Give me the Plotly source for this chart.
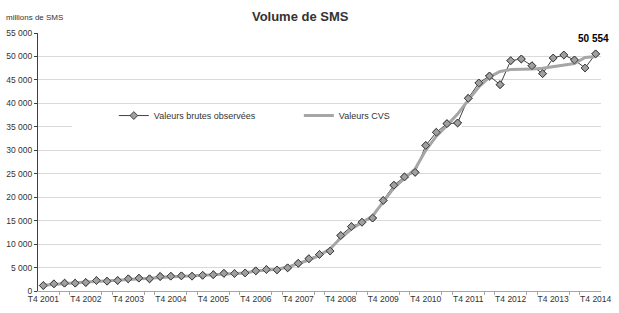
import plotly.graph_objects as go

# Quarters T4 2001 .. T4 2014
quarters = ["T4 2001"] + [f"T{q} {y}" for y in range(2002, 2015) for q in (1, 2, 3, 4)]

brutes = [1170, 1530, 1670, 1670, 1810, 2240, 2090, 2240, 2600, 2740,
          2600, 3090, 3160, 3230, 3160, 3350, 3480, 3760, 3730, 3850,
          4300, 4580, 4500, 4940, 5900, 6880, 7800, 8520, 11820, 13740,
          14660, 15550, 19300, 22550, 24320, 25300, 31030, 33830, 35680, 35820,
          41070, 44350, 45830, 43990, 49100, 49460, 48030, 46330, 49670, 50310,
          49250, 47540, 50554]

cvs = [1250, 1450, 1600, 1750, 1900, 2050, 2150, 2300, 2450, 2600,
       2700, 2900, 3050, 3150, 3250, 3350, 3450, 3600, 3700, 3850,
       4250, 4450, 4650, 5100, 5800, 6600, 7600, 9000, 11300, 13200,
       14600, 16000, 19000, 22000, 24000, 26000, 30000, 33000, 35300, 37700,
       40700, 43500, 45600, 46800, 47200, 47200, 47300, 47500, 47800, 48100,
       48500, 49800, 50000]

y_ticks = list(range(0, 55001, 5000))
y_tick_text = [f"{v:,}".replace(",", " ") for v in y_ticks]

x_idx = list(range(len(quarters)))
label_idx = [i for i, q in enumerate(quarters) if q.startswith("T4")]
label_text = [quarters[i] for i in label_idx]
tick_marks = [i + d for i in label_idx[:-1] for d in (1.5, 2.5)]

FONT = "Liberation Sans, Arial, sans-serif"

fig = go.Figure()
fig.add_trace(go.Scatter(x=x_idx, y=brutes, mode="lines+markers",
                         name="Valeurs brutes observées",
                         line=dict(color="#404040", width=1),
                         marker=dict(symbol="diamond", size=6, color="#a0a0a0",
                                     line=dict(color="#404040", width=1))))
fig.add_trace(go.Scatter(x=x_idx, y=cvs, mode="lines", name="Valeurs CVS",
                         line=dict(color="#a6a6a6", width=3)))
fig.add_trace(go.Scatter(x=x_idx, y=brutes, mode="markers", showlegend=False,
                         hoverinfo="skip",
                         marker=dict(symbol="diamond", size=6, color="#a0a0a0",
                                     line=dict(color="#404040", width=1))))

fig.add_annotation(x=x_idx[-1], y=brutes[-1], text="<b>" + f"{brutes[-1]:,}".replace(",", " ") + "</b>",
                   showarrow=False, yshift=15, xshift=-2,
                   font=dict(family=FONT, size=10, color="#000000"))
fig.add_annotation(xref="paper", yref="paper", x=-0.06, y=1.059, xanchor="left", yanchor="middle",
                   text="millions de SMS", showarrow=False,
                   font=dict(family=FONT, size=8, color="#333333"))

# white area behind legend hiding part of a gridline
fig.add_shape(type="rect", xref="x", yref="y", layer="between",
              x0=2.7, x1=39.4, y0=34000, y1=39000,
              fillcolor="white", line=dict(width=0))

fig.update_layout(
    width=619, height=313,
    margin=dict(l=38, r=17.5, t=33.3, b=21.5, autoexpand=False),
    paper_bgcolor="white", plot_bgcolor="white",
    font=dict(family=FONT, size=8.5, color="#333333"),
    title=dict(text="<b>Volume de SMS</b>", x=0.485, xanchor="center", y=0.948, yanchor="middle",
               font=dict(family=FONT, size=13, color="#333333")),
    showlegend=True,
    legend=dict(orientation="h", x=0.1347, xanchor="left", y=0.68, yanchor="middle",
                bgcolor="rgba(0,0,0,0)", font=dict(family=FONT, size=9, color="#333333"),
                entrywidth=140, itemwidth=30, traceorder="normal"),
    xaxis=dict(range=[-0.5, 52.5], tickmode="array", tickvals=label_idx, ticktext=label_text,
               ticks="", showgrid=False, zeroline=False, showline=True, automargin=False,
               linecolor="#a6a6a6", linewidth=1, tickfont=dict(size=8.5, color="#333333"),
               minor=dict(tickmode="array", tickvals=tick_marks, ticks="outside",
                          ticklen=3, tickcolor="#a6a6a6", showgrid=False)),
    yaxis=dict(range=[0, 55000], tickmode="array", tickvals=y_ticks, ticktext=y_tick_text,
               ticks="outside", ticklen=3, tickcolor="#404040", automargin=False,
               showgrid=True, gridcolor="#d9d9d9", gridwidth=1, zeroline=False,
               showline=True, linecolor="#404040", linewidth=1,
               tickfont=dict(size=8.5, color="#333333")),
)

fig.write_html("out.html")
